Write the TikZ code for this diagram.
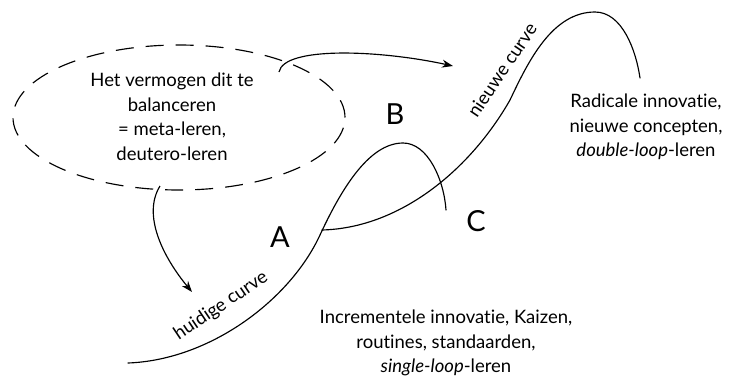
\documentclass[tikz,border=0pt]{standalone}
\usepackage{fontspec}
\setmainfont{Lato}[Ligatures={NoCommon}]
\usetikzlibrary{arrows.meta,shapes.geometric}
\begin{document}
\begin{tikzpicture}[x=1pt,y=-1pt,
  curve/.style={line width=1.15pt, line cap=round},
  txt/.style={font=\fontsize{18.5}{24.5}\selectfont, align=center, inner sep=0pt},
  letter/.style={font=\fontsize{29}{30}\selectfont, inner sep=0pt},
  arr/.style={line width=1.15pt, -{Stealth[length=11pt,width=8pt]}},
  dashell/.style={draw, ellipse, dash pattern=on 18pt off 12pt, line width=1.15pt,
    minimum width=332pt, minimum height=145pt, inner sep=0pt}]
\useasboundingbox (0,0) rectangle (731,378);
% ellipse and its text
\node[dashell] (ell) at (179,117.5) {};
\node[txt] (meta) at (172,117) {Het vermogen dit te\\balanceren\\= meta-leren,\\deutero-leren};
% curves
\coordinate (h0) at (128,363);
\coordinate (h1) at (320,235);
\coordinate (h2) at (403,143);
\coordinate (h3) at (446,210);
\draw[curve] (h0) .. controls (210,360) and (290,300) .. (h1)
  .. controls (340,192) and (368,143) .. (h2)
  .. controls (428,143) and (444,180) .. (h3);
\coordinate (n0) at (322,230);
\coordinate (n1) at (510,100);
\coordinate (n2) at (595,12);
\coordinate (n3) at (640,78);
\draw[curve] (n0) .. controls (400,228) and (470,170) .. (n1)
  .. controls (528,62) and (552,12) .. (n2)
  .. controls (622,12) and (636,50) .. (n3);
% arrows
\coordinate (a1s) at (279,72);
\coordinate (a1e) at (453,66);
\draw[arr] (a1s) .. controls (284,46) and (380,50) .. (a1e);
\coordinate (a2s) at (160,186);
\coordinate (a2e) at (192,292);
\draw[arr] (a2s) .. controls (142,215) and (163,257) .. (a2e);
% curve labels
\node[txt, rotate=34] (hc) at (221,306) {huidige curve};
\node[txt, rotate=56] (nc) at (502,70) {nieuwe curve};
% letters
\node[letter] (A) at (280,237) {A};
\node[letter] (B) at (395,114) {B};
\node[letter] (C) at (476,221) {C};
% descriptions
\node[txt] (rad) at (646,127) {Radicale innovatie,\\nieuwe concepten,\\\textit{double-loop}-leren};
\node[txt] (inc) at (446,343) {Incrementele innovatie, Kaizen,\\routines, standaarden,\\\textit{single-loop}-leren};
\end{tikzpicture}
\end{document}
